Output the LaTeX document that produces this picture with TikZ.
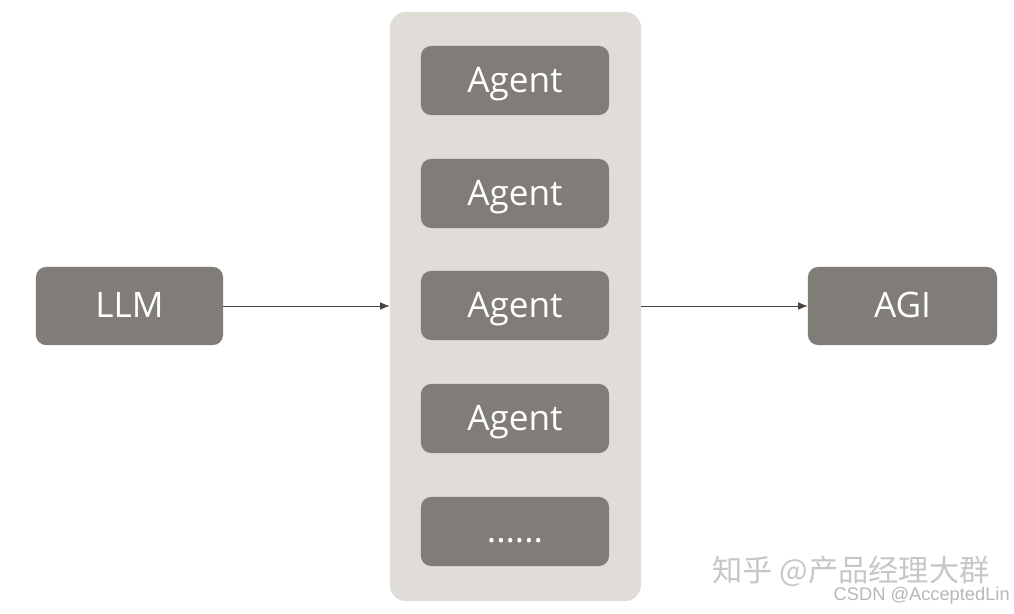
\documentclass[tikz,border=0pt]{standalone}
\usepackage{fontspec}
\setmainfont{Open Sans}
\newfontfamily\cjkfont{Noto Sans CJK SC}
\newfontfamily\markfont{Liberation Sans}
\usepackage{xcolor}
\usepackage{tikz}
\usetikzlibrary{arrows.meta}

\definecolor{boxgray}{RGB}{128,124,119}
\definecolor{panelgray}{RGB}{224,221,216}
\definecolor{linegray}{RGB}{70,68,66}

\tikzset{
  block/.style={fill=boxgray, text=white, rounded corners=0.25cm, inner sep=0pt,
    minimum width=4.7cm, minimum height=1.725cm, font=\fontsize{25}{29}\selectfont,
    text height=20pt, text depth=2.6pt},
  endbox/.style={block, minimum height=1.95cm, text height=18pt, text depth=1pt},
  link/.style={draw=linegray, line width=0.6pt, -{Latex[length=2.4mm,width=1.9mm]}}
}

\begin{document}
\begin{tikzpicture}[x=0.025cm,y=-0.025cm]
\useasboundingbox[fill=white] (0,0) rectangle (1014,613);
% the pool of agents
\node (pool) [fill=panelgray, rounded corners=0.4cm, minimum width=6.275cm, minimum height=14.725cm] at (515.5,306.5) {};
\node (agent1) [block] at (515,80.5) {Agent};
\node (agent2) [block] at (515,193.5) {Agent};
\node (agent3) [block] at (515,305.5) {Agent};
\node (agent4) [block] at (515,418.5) {Agent};
\node (more) [block, text height=18pt, text depth=2.4pt] at (515,531.5) {......};
% input and output
\node (llm) [endbox, minimum width=4.675cm] at (129.5,306) {LLM};
\node (agi) [endbox, minimum width=4.725cm] at (902.5,306) {AGI};
\draw[link] (llm.east) -- (llm.east -| pool.west);
\draw[link] (pool.east |- agi.west) -- (agi.west);
% watermarks
\node (zhihu) [text=black!22, font=\cjkfont\fontsize{21.5}{24}\selectfont, inner sep=0pt] at (851,571) {知乎 @产品经理大群};
\node (csdn) [text=black!28, font=\markfont\fontsize{13}{15}\selectfont, inner sep=0pt, anchor=east] at (1010,596) {CSDN @AcceptedLin};
\end{tikzpicture}
\end{document}
